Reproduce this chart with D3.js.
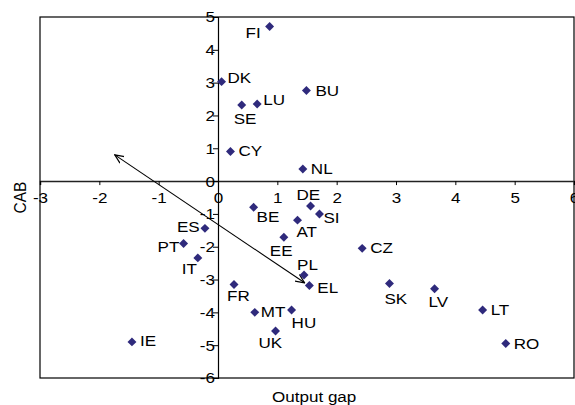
<!DOCTYPE html>
<html>
<head>
<meta charset="utf-8">
<script src="https://cdn.jsdelivr.net/npm/d3@7"></script>
<style>
  body { margin: 0; background: #fff; }
  text { font-family: "Liberation Sans", Arial, sans-serif; fill: #000; }
</style>
</head>
<body>
<div id="chart"></div>
<script>
// country codes, output gap (x) and current account balance (y)
var countries = ["FI","DK","SE","LU","CY","BU","NL","DE","SI","AT","EE","CZ","PL","EL",
                 "SK","LV","LT","RO","HU","MT","UK","FR","IE","ES","PT","IT","BE"];
var outputGap = [0.87, 0.06, 0.40, 0.66, 0.21, 1.49, 1.43, 1.56, 1.71, 1.34, 1.11, 2.43, 1.45, 1.54,
                 2.89, 3.65, 4.46, 4.85, 1.24, 0.62, 0.97, 0.27, -1.45, -0.22, -0.58, -0.34, 0.60];
var cab = [4.71, 3.03, 2.32, 2.35, 0.90, 2.76, 0.37, -0.76, -1.00, -1.19, -1.71, -2.05, -2.86, -3.18,
           -3.12, -3.28, -3.93, -4.95, -3.93, -4.00, -4.57, -3.15, -4.90, -1.44, -1.90, -2.34, -0.80];
var xTicks = [-3, -2, -1, 0, 1, 2, 3, 4, 5, 6];
var yTicks = [-6, -5, -4, -3, -2, -1, 0, 1, 2, 3, 4, 5];
// double headed arrow, from / to in data units
var arrowFrom = [-1.74, 0.80];
var arrowTo = [1.46, -3.10];

// label placement: text start offset and baseline offset from the marker, in px
var labelOffsets = {
  FI: [-24, 11], DK: [6, 1], SE: [-8, 19], LU: [6, 1], CY: [8, 4], BU: [9, 5],
  NL: [8, 5], DE: [-14, -6], SI: [4, 9], AT: [-1, 17], EE: [-14, 19], CZ: [8, 5],
  PL: [-7, -5], EL: [8, 8], SK: [-5, 21], LV: [-6, 18], LT: [8, 5], RO: [8, 5],
  HU: [0, 18], MT: [6, 5], UK: [-17, 17], FR: [-7, 17], IE: [8, 4], ES: [-28, 4],
  PT: [-26, 9], IT: [-16, 16], BE: [3, 15]
};

var W = 575, H = 405;
var FONT = "15.5px";
var SX = 1.1;   // the source picture is a little wider than tall

var svg = d3.select("#chart").append("svg")
  .attr("width", W).attr("height", H);

var x = d3.scaleLinear().domain([-3, 6]).range([40, 574]);
var y = d3.scaleLinear().domain([-6, 5]).range([378, 17]);

// plot frame
svg.append("rect")
  .attr("x", x(-3)).attr("y", y(5))
  .attr("width", x(6) - x(-3)).attr("height", y(-6) - y(5))
  .attr("fill", "none").attr("stroke", "#000").attr("stroke-width", 1.2);

// x axis through zero
var xAxis = svg.append("g")
  .attr("transform", "translate(0," + y(0) + ")")
  .call(d3.axisBottom(x).tickValues(xTicks).tickSize(4).tickPadding(7));
xAxis.select(".domain").attr("stroke", "#222").attr("stroke-width", 1.5);
xAxis.selectAll(".tick line").attr("stroke", "#000");
xAxis.selectAll("text")
  .style("font-size", FONT)
  .attr("transform", "scale(" + SX + ",1)")
  .text(function (d) { return String(d); });

// y axis through zero
var yAxis = svg.append("g")
  .attr("transform", "translate(" + x(0) + ",0)")
  .call(d3.axisLeft(y).tickValues(yTicks).tickSize(5).tickPadding(-2));
yAxis.select(".domain").attr("stroke", "#000").attr("stroke-width", 1.2);
yAxis.selectAll(".tick line").attr("stroke", "#000");
yAxis.selectAll("text")
  .style("font-size", FONT)
  .attr("x", -3 / SX)
  .attr("transform", "scale(" + SX + ",1)")
  .text(function (d) { return String(d); });

// arrow
var defs = svg.append("defs");
defs.append("marker")
  .attr("id", "arr")
  .attr("viewBox", "0 0 10 10")
  .attr("refX", 9).attr("refY", 5)
  .attr("markerWidth", 10).attr("markerHeight", 10)
  .attr("markerUnits", "userSpaceOnUse")
  .attr("orient", "auto-start-reverse")
  .append("path")
  .attr("d", "M0,1 L9,5 L0,9")
  .attr("fill", "none").attr("stroke", "#000").attr("stroke-width", 1.2);

svg.append("line")
  .attr("x1", x(arrowFrom[0])).attr("y1", y(arrowFrom[1]))
  .attr("x2", x(arrowTo[0])).attr("y2", y(arrowTo[1]))
  .attr("stroke", "#000").attr("stroke-width", 1.1)
  .attr("marker-start", "url(#arr)")
  .attr("marker-end", "url(#arr)");

var data = countries.map(function (c, i) {
  return { name: c, gap: outputGap[i], cab: cab[i] };
});

// diamond markers
var diamond = d3.symbol().type(d3.symbolSquare).size(40);
svg.append("g").selectAll("path")
  .data(data)
  .enter()
  .append("path")
  .attr("d", diamond)
  .attr("transform", function (d) {
    return "translate(" + x(d.gap) + "," + y(d.cab) + ") rotate(45)";
  })
  .attr("fill", "#2f2a7c");

// country labels
svg.append("g").selectAll("text")
  .data(data)
  .enter()
  .append("text")
  .attr("transform", function (d) {
    var o = labelOffsets[d.name];
    return "translate(" + (x(d.gap) + o[0]) + "," + (y(d.cab) + o[1]) + ") scale(" + SX + ",1)";
  })
  .style("font-size", FONT)
  .text(function (d) { return d.name; });

// axis titles
svg.append("text")
  .attr("transform", "translate(272,402) scale(" + SX + ",1)")
  .style("font-size", FONT)
  .text("Output gap");

svg.append("text")
  .attr("transform", "translate(26," + ((y(5) + y(-6)) / 2) + ") scale(" + SX + ",1) rotate(-90)")
  .style("text-anchor", "middle")
  .style("font-size", FONT)
  .text("CAB");
</script>
</body>
</html>
